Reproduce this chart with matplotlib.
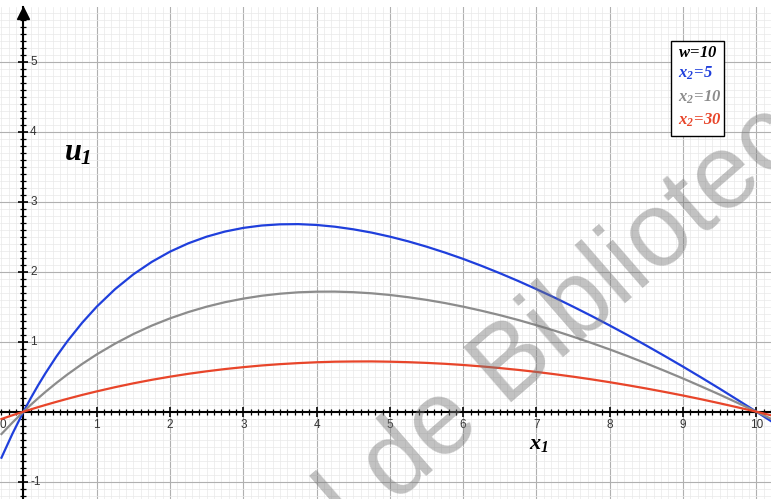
"""Utility curves u1(x1) for w=10 and three values of x2."""

import matplotlib

matplotlib.use("Agg")
import matplotlib.pyplot as plt
from matplotlib.ticker import MultipleLocator

# values
x1 = [-0.3, -0.15, 0.0, 0.1, 0.2, 0.3, 0.45, 0.6, 0.8, 1.0, 1.25, 1.5, 1.75,
      2.0, 2.25, 2.5, 2.75, 3.0, 3.25, 3.5, 3.75, 4.0, 4.25, 4.5, 4.75, 5.0,
      5.25, 5.5, 5.75, 6.0, 6.25, 6.5, 6.75, 7.0, 7.25, 7.5, 7.75, 8.0, 8.25,
      8.5, 8.75, 9.0, 9.25, 9.5, 9.75, 10.0, 10.3]
u_x2_5 = [-0.657, -0.314, 0.0, 0.194, 0.377, 0.549, 0.789, 1.007, 1.269, 1.500,
          1.750, 1.962, 2.139, 2.286, 2.405, 2.500, 2.573, 2.625, 2.659, 2.676,
          2.679, 2.667, 2.642, 2.605, 2.558, 2.500, 2.433, 2.357, 2.273, 2.182,
          2.083, 1.978, 1.867, 1.750, 1.628, 1.500, 1.368, 1.231, 1.090, 0.944,
          0.795, 0.643, 0.487, 0.328, 0.165, 0.0, -0.202]
u_x2_10 = [-0.319, -0.155, 0.0, 0.098, 0.192, 0.283, 0.411, 0.532, 0.681, 0.818,
           0.972, 1.109, 1.229, 1.333, 1.423, 1.500, 1.564, 1.615, 1.656, 1.685,
           1.705, 1.714, 1.715, 1.707, 1.691, 1.667, 1.635, 1.597, 1.552, 1.500,
           1.442, 1.379, 1.310, 1.235, 1.156, 1.071, 0.982, 0.889, 0.791, 0.689,
           0.583, 0.474, 0.360, 0.244, 0.123, 0.0, -0.152]
u_x2_30 = [-0.104, -0.051, 0.0, 0.033, 0.065, 0.096, 0.141, 0.184, 0.239, 0.290,
           0.350, 0.405, 0.455, 0.500, 0.541, 0.577, 0.609, 0.636, 0.660, 0.679,
           0.694, 0.706, 0.714, 0.717, 0.718, 0.714, 0.707, 0.697, 0.684, 0.667,
           0.647, 0.623, 0.597, 0.568, 0.535, 0.500, 0.462, 0.421, 0.377, 0.331,
           0.282, 0.231, 0.177, 0.120, 0.061, 0.0, -0.077]

series = [
    (u_x2_5, "#1f3fdc", r"$x_2\!=\!5$"),
    (u_x2_10, "#8c8c8c", r"$x_2\!=\!10$"),
    (u_x2_30, "#e8452a", r"$x_2\!=\!30$"),
]
x_ticks = [1, 2, 3, 4, 5, 6, 7, 8, 9, 10]
y_ticks = [-1, 1, 2, 3, 4, 5]

plt.rcParams["mathtext.fontset"] = "custom"
plt.rcParams["mathtext.it"] = "Liberation Serif:italic:bold"
plt.rcParams["mathtext.rm"] = "Liberation Serif:italic:bold"
plt.rcParams["mathtext.bf"] = "Liberation Serif:italic:bold"

W, H = 771, 499
fig = plt.figure(figsize=(W / 100, H / 100), dpi=100)
ax = fig.add_axes([0, 0, 1, (H - 7) / H])
ax.set_xlim(-0.32, 10.2)
ax.set_ylim(-1.247, 5.78)

# paper grid
ax.xaxis.set_major_locator(MultipleLocator(1))
ax.yaxis.set_major_locator(MultipleLocator(1))
ax.xaxis.set_minor_locator(MultipleLocator(0.1))
ax.yaxis.set_minor_locator(MultipleLocator(0.1))
ax.grid(which="minor", color="#e9e9e9", linewidth=0.5)
ax.grid(which="major", color="#b0b0b0", linewidth=0.8)
ax.set_axisbelow(True)

# axes through the origin
for side in ["top", "right"]:
    ax.spines[side].set_visible(False)
ax.spines["left"].set_position("zero")
ax.spines["bottom"].set_position("zero")
ax.spines["left"].set_linewidth(1.5)
ax.spines["bottom"].set_linewidth(1.5)
ax.tick_params(which="major", direction="inout", length=7, width=1.2, color="k")
ax.tick_params(which="minor", direction="inout", length=4, width=0.9, color="k")
ax.tick_params(labelbottom=False, labelleft=False)
ax.plot([0], [5.70], marker="^", markersize=8, color="k", clip_on=False, zorder=5)

for t in x_ticks:
    ax.text(t, -0.19, str(t), ha="center", va="center", fontsize=8.5,
            color="#333333", family="Liberation Sans")
ax.text(-0.28, -0.19, "0", ha="center", va="center", fontsize=8.5,
        color="#333333", family="Liberation Sans")
for t in y_ticks:
    ax.text(0.09, t, str(t), ha="left", va="center", fontsize=8.5,
            color="#333333", family="Liberation Sans")

for values, color, _ in series:
    ax.plot(x1, values, color=color, linewidth=1.6, zorder=3)

ax.text(0.74, 3.70, r"$u_1$", fontsize=22, ha="center", va="center")
ax.text(7.03, -0.46, r"$x_1$", fontsize=16, ha="center", va="center")

# legend box
fig.patches.append(plt.Rectangle((671 / W, 1 - 136 / H), 53 / W, 95 / H,
                                 transform=fig.transFigure, facecolor="white",
                                 edgecolor="black", linewidth=1.0, zorder=6))
fig.text(678 / W, 1 - 52 / H, r"$w\!=\!10$", fontsize=12, color="black",
         va="center", zorder=7)
for (values, color, label), ypx in zip(series, [73, 97, 120]):
    fig.text(678 / W, 1 - ypx / H, label, fontsize=12, color=color,
             va="center", zorder=7)

# watermark
fig.text(452 / W, 1 - 418 / H, "Material de Biblioteca", fontsize=76,
         family="Liberation Sans", color="#777777", alpha=0.45, rotation=41,
         rotation_mode="anchor", ha="center", va="center", zorder=8)

fig.savefig("out.png", dpi=100)
